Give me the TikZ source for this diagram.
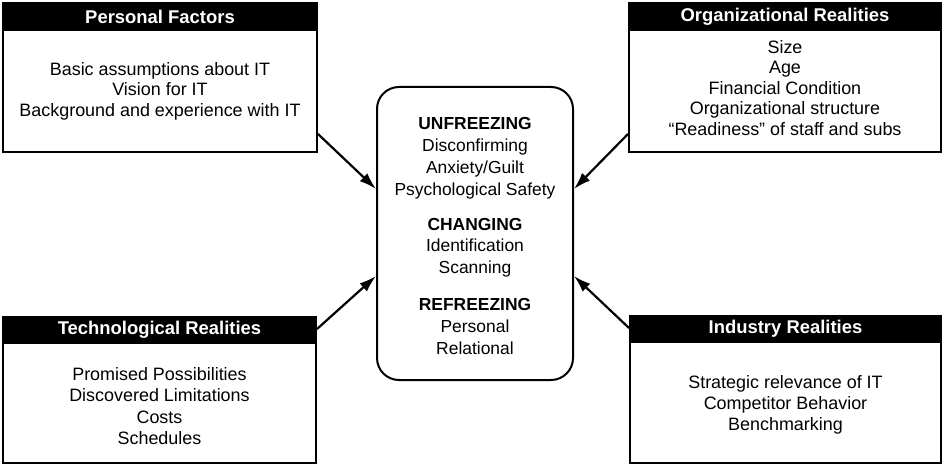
\documentclass[tikz,border=0pt]{standalone}
\usepackage{fontspec}
\setmainfont{Liberation Sans}
\usetikzlibrary{arrows.meta,calc}
\begin{document}
\begin{tikzpicture}[x=1bp,y=-1bp,
  frame/.style={draw=black, line width=2bp, inner sep=0pt},
  titlebar/.style={fill=black, text=white, inner sep=0pt, minimum height=29bp,
    font=\fontsize{18.5}{20}\selectfont\bfseries, anchor=north},
  body/.style={align=center, inner sep=0pt, font=\fontsize{18}{20.5}\selectfont},
  core/.style={draw=black, line width=2bp, rounded corners=22bp, inner sep=0pt,
    minimum width=196bp, minimum height=293bp},
  coretext/.style={align=center, inner sep=0pt, font=\fontsize{17.5}{22}\selectfont},
  push/.style={line width=2.2bp, -{Latex[length=17bp,width=11bp]}}]
\useasboundingbox (0,0) rectangle (943,464);

% outer factor boxes
\node[frame, minimum width=314bp, minimum height=149bp] (pf) at (160,77.5) {};
\node[frame, minimum width=312bp, minimum height=149bp] (org) at (785,77.5) {};
\node[frame, minimum width=313bp, minimum height=146bp] (tech) at (159.5,390) {};
\node[frame, minimum width=311bp, minimum height=147bp] (ind) at (785.5,389.5) {};

% black title bars
\node[titlebar, minimum width=316bp] (pft) at (pf.north) {Personal Factors};
\node[titlebar, minimum width=314bp] (orgt) at (org.north) {Organizational Realities};
\node[titlebar, minimum width=315bp, minimum height=28bp] (techt) at (tech.north) {Technological Realities};
\node[titlebar, minimum width=313bp, minimum height=28bp] (indt) at (ind.north) {Industry Realities};

% box contents
\node[body] (pfb) at (160,91) {Basic assumptions about IT\\Vision for IT\\Background and experience with IT};
\node[body] (orgb) at (785,88) {Size\\Age\\Financial Condition\\Organizational structure\\``Readiness'' of staff and subs};
\node[body, font=\fontsize{18}{21.3}\selectfont] (techb) at (159.5,406) {Promised Possibilities\\Discovered Limitations\\Costs\\Schedules};
\node[body, font=\fontsize{18}{21}\selectfont] (indb) at (785.5,405) {Strategic relevance of IT\\Competitor Behavior\\Benchmarking};

% central change process
\node[core] (cb) at (475,233.5) {};
\node[coretext] (cbt) at (475,236) {\textbf{UNFREEZING}\\Disconfirming\\Anxiety/Guilt\\Psychological Safety\\[13bp]
  \textbf{CHANGING}\\Identification\\Scanning\\[15bp]
  \textbf{REFREEZING}\\Personal\\Relational};

% influences on the change process
\draw[push] ($(pf.south east)+(0,-19)$) -- ($(cb.north west)+(0,103)$);
\draw[push] ($(org.south west)+(0,-19)$) -- ($(cb.north east)+(0,103)$);
\draw[push] ($(tech.north east)+(0,13)$) -- ($(cb.north west)+(0,190)$);
\draw[push] ($(ind.north west)+(0,13)$) -- ($(cb.north east)+(0,190)$);
\end{tikzpicture}
\end{document}
